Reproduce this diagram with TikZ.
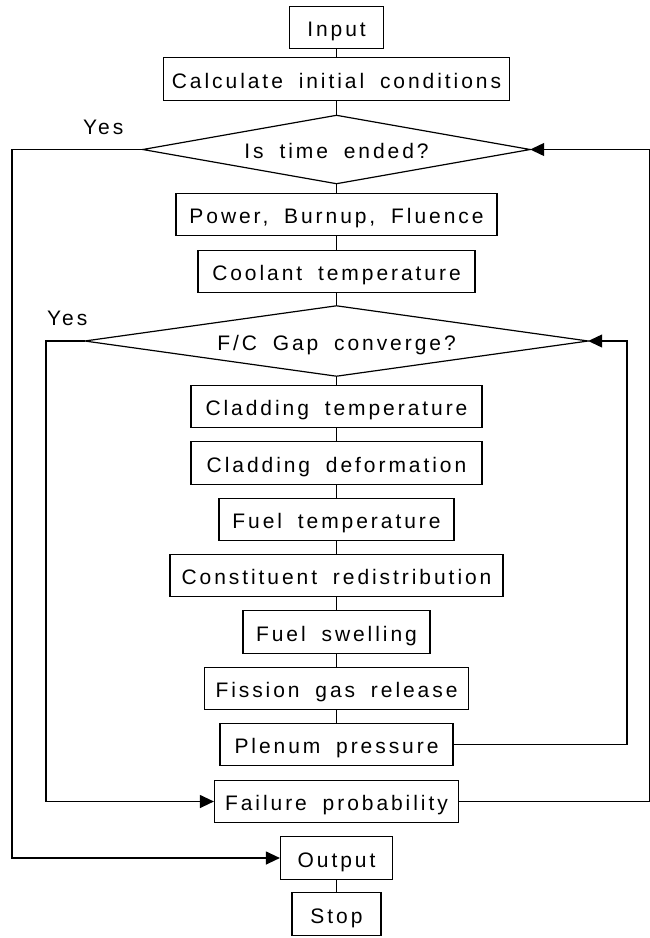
\documentclass[tikz,border=0pt]{standalone}
\usepackage{fontspec}
\setmainfont{Liberation Sans}[LetterSpace=14,WordSpace=1.8]
\usetikzlibrary{arrows.meta}
\begin{document}
\begin{tikzpicture}[x=1pt,y=1pt,
  every node/.style={font=\fontsize{21}{25}\selectfont},
  stepbox/.style={draw, line width=1.2pt, rectangle, inner sep=0pt, minimum height=42.5pt, text height=18pt, text depth=0pt},
  decide/.style={rectangle, inner sep=0pt, text height=18pt, text depth=0pt},
  diamondline/.style={line width=1.2pt, line join=miter},
  conn/.style={line width=1.2pt},
  arr/.style={line width=1.2pt, -{Triangle[length=14pt,width=13pt]}},
  lbl/.style={anchor=base west, inner sep=0pt}
]
\useasboundingbox (0,0) rectangle (650,-938);
\node[stepbox, minimum width=94pt]  (in)    at (336.5,-27.5) {Input};
\node[stepbox, minimum width=346pt] (calc)  at (336.5,-79)   {Calculate initial conditions};
\node[decide, minimum width=387pt, minimum height=68pt] (d1) at (336.5,-149.5) {Is time ended?};
\node[stepbox, minimum width=321pt] (pow)   at (336.5,-214.5) {Power, Burnup, Fluence};
\node[stepbox, minimum width=277pt] (cool)  at (336.5,-271.5) {Coolant temperature};
\node[decide, minimum width=503pt, minimum height=70pt] (d2) at (336.5,-341) {F/C Gap converge?};
\node[stepbox, minimum width=291pt] (cladt) at (336.5,-406.5) {Cladding temperature};
\node[stepbox, minimum width=291pt] (cladd) at (336.5,-463)   {Cladding deformation};
\node[stepbox, minimum width=235pt] (fuelt) at (336.5,-519.5) {Fuel temperature};
\node[stepbox, minimum width=333pt] (cons)  at (336.5,-575.5) {Constituent redistribution};
\node[stepbox, minimum width=187pt] (swell) at (336.5,-632)   {Fuel swelling};
\node[stepbox, minimum width=264pt] (fgr)   at (336.5,-688.5) {Fission gas release};
\node[stepbox, minimum width=233pt] (plen)  at (336.5,-744.5) {Plenum pressure};
\node[stepbox, minimum width=244pt] (fail)  at (336.5,-801.5) {Failure probability};
\node[stepbox, minimum width=112pt] (out)   at (336.5,-858)   {Output};
\node[stepbox, minimum width=89pt]  (stop)  at (336.5,-914)   {Stop};
\node[lbl] (yes1) at (83,-134) {Yes};
\node[lbl] (yes2) at (47,-325) {Yes};
\draw[diamondline] (d1.west) -- (d1.north) -- (d1.east) -- (d1.south) -- cycle;
\draw[diamondline] (d2.west) -- (d2.north) -- (d2.east) -- (d2.south) -- cycle;
\coordinate (L1) at (12,0);
\coordinate (L2) at (46,0);
\coordinate (R2) at (627,0);
\coordinate (R1) at (649.4,0);
\draw[conn] (in) -- (calc);
\draw[conn] (calc) -- (d1.north);
\draw[conn] (d1.south) -- (pow);
\draw[conn] (pow) -- (cool);
\draw[conn] (cool) -- (d2.north);
\draw[conn] (d2.south) -- (cladt);
\draw[conn] (cladt) -- (cladd);
\draw[conn] (cladd) -- (fuelt);
\draw[conn] (fuelt) -- (cons);
\draw[conn] (cons) -- (swell);
\draw[conn] (swell) -- (fgr);
\draw[conn] (fgr) -- (plen);
\draw[conn] (out) -- (stop);
\draw[arr] (d1.west) -- (d1.west -| L1) |- (out.west);
\draw[arr] (d2.west) -- (d2.west -| L2) |- (fail.west);
\draw[arr] (plen.east) -- (plen.east -| R2) |- (d2.east);
\draw[arr] (fail.east) -- (fail.east -| R1) |- (d1.east);
\end{tikzpicture}
\end{document}
